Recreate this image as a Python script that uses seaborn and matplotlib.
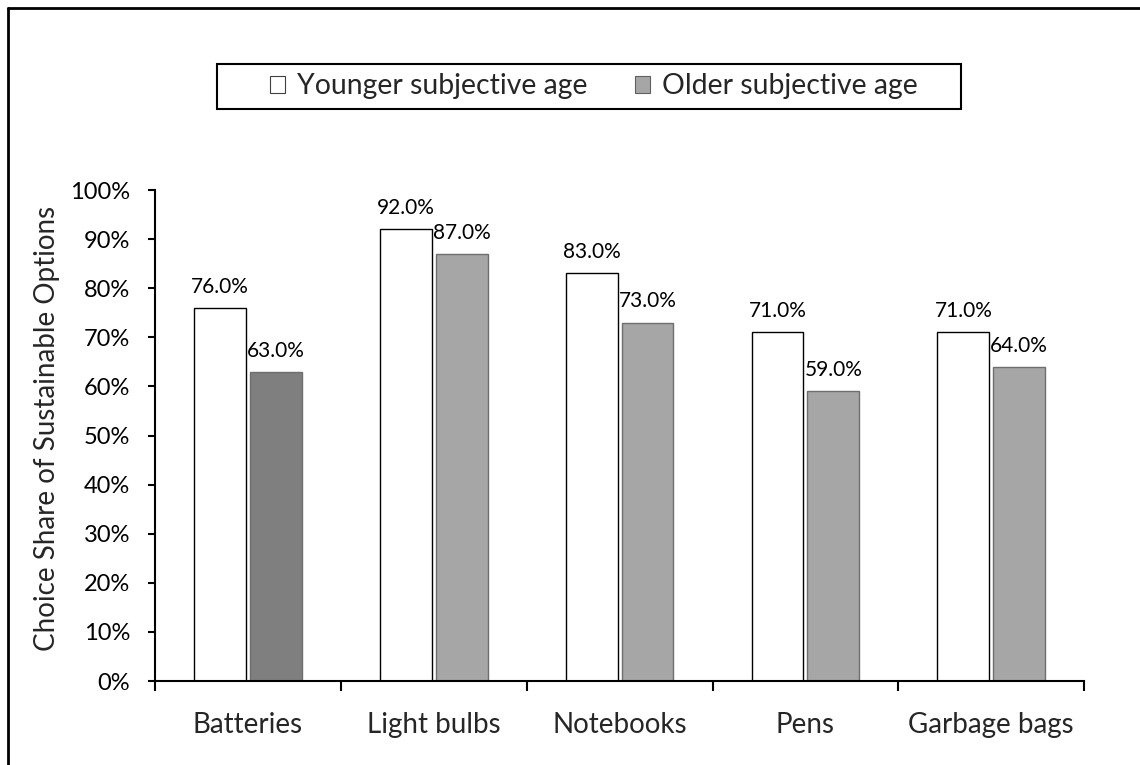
import matplotlib
matplotlib.use("Agg")
import matplotlib.pyplot as plt
import seaborn as sns
import pandas as pd
from matplotlib.patches import Patch, Rectangle
from matplotlib.lines import Line2D
from matplotlib.ticker import FuncFormatter, FixedLocator

categories = ["Batteries", "Light bulbs", "Notebooks", "Pens", "Garbage bags"]
groups = ["Younger subjective age", "Older subjective age"]
younger = [76.0, 92.0, 83.0, 71.0, 71.0]
older = [63.0, 87.0, 73.0, 59.0, 64.0]
yticks = [0, 10, 20, 30, 40, 50, 60, 70, 80, 90, 100]

df = pd.DataFrame({
    "category": categories * 2,
    "group": [groups[0]] * len(categories) + [groups[1]] * len(categories),
    "value": younger + older,
})

sns.set_style("white")
plt.rcParams["font.family"] = ["Lato", "DejaVu Sans"]

fig = plt.figure(figsize=(11.4, 7.65), dpi=100)
ax = fig.add_axes([0.136, 0.1098, 0.815, 0.6418])

palette = {groups[0]: "#FFFFFF", groups[1]: "#A6A6A6"}
sns.barplot(data=df, x="category", y="value", hue="group", palette=palette,
            order=categories, hue_order=groups, width=0.6, gap=0.07,
            linewidth=1.0, edgecolor="black", legend=False, ax=ax)

for p in ax.containers[0]:
    p.set_edgecolor("#000000")
    p.set_linewidth(1.0)
for p in ax.containers[1]:
    p.set_edgecolor("#6E6E6E")
    p.set_linewidth(1.0)
ax.containers[1][0].set_facecolor("#7F7F7F")

for c in ax.containers:
    ax.bar_label(c, labels=[f"{v:.1f}%" for v in c.datavalues],
                 padding=8, fontsize=15, color="#000000")

ax.set_ylim(0, 100)
ax.set_xlim(-0.5, len(categories) - 0.5)
ax.set_yticks(yticks)
ax.yaxis.set_major_formatter(FuncFormatter(lambda v, p: f"{int(v)}%"))
ax.tick_params(axis="y", direction="out", length=5, width=1.5, labelsize=17,
               pad=13, left=True, colors="black")
ax.tick_params(axis="x", which="major", length=0, labelsize=20, pad=22)
ax.xaxis.set_minor_locator(FixedLocator([i - 0.5 for i in range(len(categories) + 1)]))
ax.tick_params(axis="x", which="minor", direction="out", length=7.5, width=1.5,
               bottom=True, colors="black")

for s in ["top", "right"]:
    ax.spines[s].set_visible(False)
for s in ["left", "bottom"]:
    ax.spines[s].set_linewidth(1.5)
    ax.spines[s].set_color("black")

ax.set_xlabel("")
ax.set_ylabel("Choice Share of Sustainable Options", fontsize=20)
ax.yaxis.set_label_coords(-0.102, 0.515)

handles = [Patch(facecolor="#FFFFFF", edgecolor="#404040", linewidth=0.8),
           Patch(facecolor="#A6A6A6", edgecolor="#606060", linewidth=0.8)]
leg = fig.legend(handles, groups, loc="center", bbox_to_anchor=(0.521, 0.887),
                 ncol=2, fontsize=20.4, frameon=False,
                 handlelength=0.53, handleheight=0.53,
                 handletextpad=0.42, columnspacing=1.7, borderpad=0.3,
                 borderaxespad=0)

# legend box
fig.add_artist(Rectangle((217 / 1140, 1 - 109 / 765), 744 / 1140, 45 / 765,
                         transform=fig.transFigure, facecolor="none",
                         edgecolor="black", linewidth=1.5, zorder=0))

# figure frame (top and left lines)
fig.add_artist(Line2D([8 / 1140, 1.0], [1 - 8 / 765, 1 - 8 / 765],
                      transform=fig.transFigure, color="black", linewidth=2))
fig.add_artist(Line2D([8 / 1140, 8 / 1140], [0.0, 1 - 8 / 765],
                      transform=fig.transFigure, color="black", linewidth=2))

fig.savefig("out.png", dpi=100, facecolor="white")
